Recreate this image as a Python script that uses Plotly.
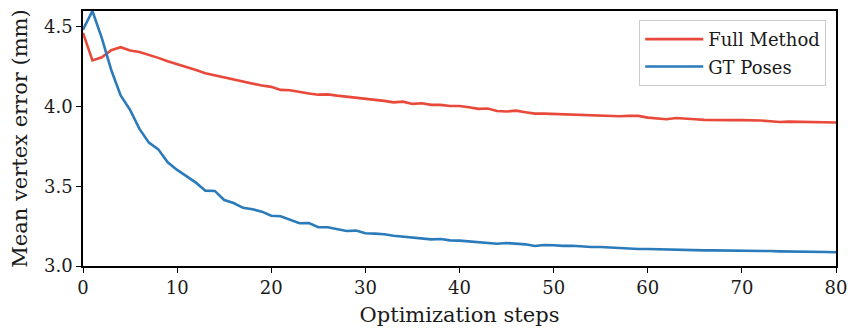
import plotly.graph_objects as go

steps = list(range(81))

full_method = [
    4.463, 4.290, 4.310, 4.354, 4.373, 4.352, 4.343, 4.326, 4.306, 4.285,
    4.268, 4.247, 4.230, 4.210, 4.197, 4.182, 4.170, 4.157, 4.144, 4.132,
    4.124, 4.105, 4.103, 4.092, 4.082, 4.075, 4.077, 4.069, 4.063, 4.055,
    4.048, 4.046, 4.036, 4.027, 4.031, 4.017, 4.021, 4.011, 4.011, 4.004,
    4.004, 3.996, 3.986, 3.988, 3.973, 3.969, 3.975, 3.965, 3.956, 3.956,
    3.954, 3.952, 3.948, 3.946, 3.944, 3.942, 3.941, 3.940, 3.942, 3.942,
    3.931, 3.927, 3.921, 3.929, 3.923, 3.921, 3.917, 3.915, 3.915, 3.915,
    3.915, 3.915, 3.913, 3.908, 3.904, 3.906, 3.904, 3.902, 3.902, 3.900,
    3.900,
]

gt_poses = [
    4.483, 4.600, 4.430, 4.230, 4.070, 3.980, 3.860, 3.774, 3.732, 3.651,
    3.603, 3.561, 3.523, 3.473, 3.471, 3.414, 3.395, 3.365, 3.356, 3.341,
    3.315, 3.312, 3.289, 3.268, 3.270, 3.243, 3.243, 3.232, 3.220, 3.222,
    3.205, 3.203, 3.199, 3.190, 3.184, 3.178, 3.174, 3.167, 3.169, 3.161,
    3.159, 3.155, 3.151, 3.146, 3.140, 3.144, 3.140, 3.136, 3.126, 3.132,
    3.130, 3.126, 3.127, 3.121, 3.119, 3.119, 3.115, 3.115, 3.111, 3.107,
    3.107, 3.105, 3.105, 3.103, 3.100, 3.100, 3.098, 3.098, 3.098, 3.096,
    3.096, 3.096, 3.094, 3.094, 3.092, 3.092, 3.090, 3.090, 3.088, 3.088,
    3.086,
]

series_names = ["Full Method", "GT Poses"]
series_colors = ["#e8493a", "#2b7bba"]

x_ticks = [0, 10, 20, 30, 40, 50, 60, 70, 80]
y_ticks = [3.0, 3.5, 4.0, 4.5]

FONT = "'DejaVu Serif', serif"
TXT = "#1a1a1a"

fig = go.Figure()
for i, (name, vals, col) in enumerate(zip(series_names, [full_method, gt_poses], series_colors)):
    fig.add_trace(go.Scatter(
        x=steps, y=vals, mode="lines", name=name,
        line=dict(color=col, width=2.6),
        legendgroup=f"g{i}",
    ))

axis_common = dict(
    showgrid=False, zeroline=False, automargin=False,
    showline=True, linecolor="black", linewidth=1.5, mirror=True,
    ticks="outside", ticklen=5, tickwidth=1.3, tickcolor="black",
    tickfont=dict(family=FONT, size=18, color=TXT),
)

fig.update_xaxes(
    range=[0, 80], tickvals=x_ticks,
    ticktext=[str(v) for v in x_ticks],
    title=dict(text="Optimization steps", font=dict(family=FONT, size=21, color=TXT), standoff=10),
    **axis_common,
)
fig.update_yaxes(
    range=[3.0, 4.6], tickvals=y_ticks,
    ticktext=[f"{v:.1f}" for v in y_ticks],
    title=dict(text="Mean vertex error (mm)", font=dict(family=FONT, size=21, color=TXT), standoff=11),
    **axis_common,
)

fig.update_layout(
    width=850, height=330,
    margin=dict(l=83, r=14, t=11, b=64, autoexpand=False),
    paper_bgcolor="white", plot_bgcolor="white",
    font=dict(family=FONT, color=TXT),
    legend=dict(
        x=0.987, y=0.965, xanchor="right", yanchor="top",
        bgcolor="rgba(255,255,255,0.9)", bordercolor="#cccccc", borderwidth=1,
        font=dict(family=FONT, size=18, color=TXT),
        itemwidth=58, tracegroupgap=1,
    ),
    showlegend=True,
)

fig.write_html(
    "out.html",
    config={"displayModeBar": False},
    post_script="document.body.style.margin='0';document.body.style.overflow='hidden';",
)
